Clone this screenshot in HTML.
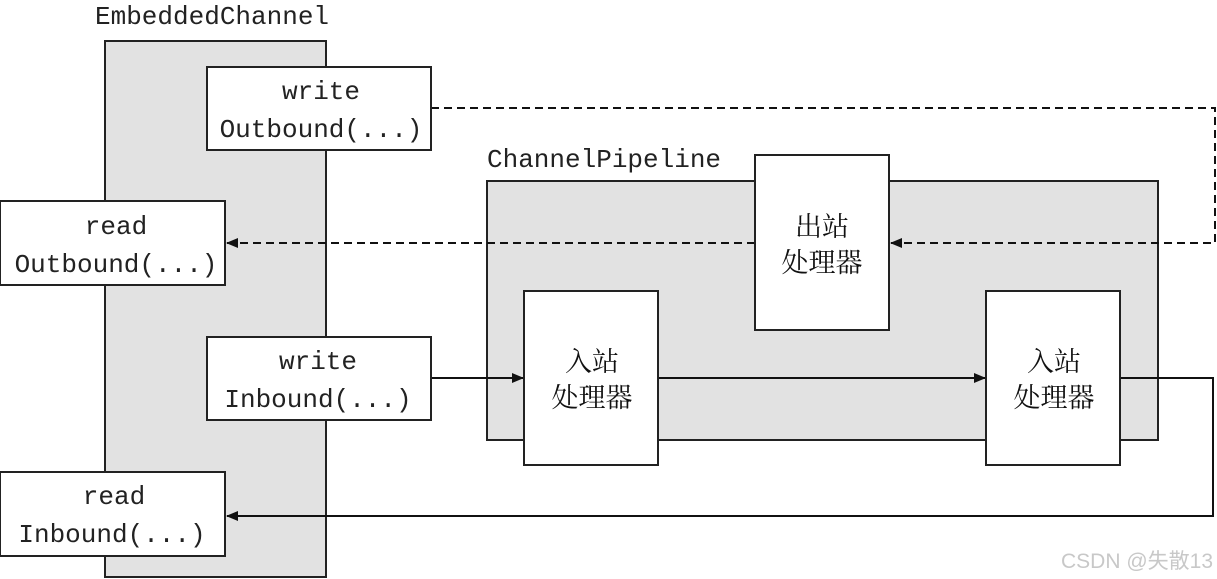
<!DOCTYPE html>
<html><head><meta charset="utf-8"><style>
html,body{margin:0;padding:0;background:#fff;width:1217px;height:579px;overflow:hidden}
svg text.m{font-family:"Liberation Mono",monospace;font-size:26px;fill:#222}
svg text.c{font-family:"Noto Serif CJK SC","Noto Sans CJK SC",serif;font-size:27px;fill:#111}
</style></head><body>
<svg width="1217" height="579" viewBox="0 0 1217 579" xmlns="http://www.w3.org/2000/svg">
<defs>
<marker id="a" markerWidth="12" markerHeight="10" refX="11" refY="5" orient="auto" markerUnits="userSpaceOnUse"><path d="M0,0 L12,5 L0,10 z" fill="#111"/></marker>
</defs>
<g stroke="#222" stroke-width="2">
<rect x="105" y="41" width="221" height="536" fill="#e2e2e2"/>
<rect x="487" y="181" width="671" height="259" fill="#e2e2e2"/>
</g>
<text class="m" x="95" y="24">EmbeddedChannel</text>
<text class="m" x="487" y="167">ChannelPipeline</text>
<g fill="none" stroke="#111" stroke-width="2">
<path d="M431,108 H1215 V243 H891" stroke-dasharray="8,5" marker-end="url(#a)"/>
<path d="M755,243 H227" stroke-dasharray="8,5" marker-end="url(#a)"/>
<path d="M431,378 H523" marker-end="url(#a)"/>
<path d="M658,378 H985" marker-end="url(#a)"/>
<path d="M1120,378 H1213 V516 H227" marker-end="url(#a)"/>
</g>
<g fill="#fff" stroke="#222" stroke-width="2">
<rect x="207" y="67" width="224" height="83"/>
<rect x="0" y="201" width="225" height="84"/>
<rect x="207" y="337" width="224" height="83"/>
<rect x="0" y="472" width="225" height="84"/>
<rect x="755" y="155" width="134" height="175"/>
<rect x="524" y="291" width="134" height="174"/>
<rect x="986" y="291" width="134" height="174"/>
</g>
<g text-anchor="middle">
<text class="m" x="321" y="99">write</text>
<text class="m" x="321" y="137">Outbound(...)</text>
<text class="m" x="116" y="234">read</text>
<text class="m" x="116" y="272">Outbound(...)</text>
<text class="m" x="318" y="369">write</text>
<text class="m" x="318" y="407">Inbound(...)</text>
<text class="m" x="114" y="504">read</text>
<text class="m" x="112" y="542">Inbound(...)</text>
<text class="c" x="822" y="236">出站</text>
<text class="c" x="822" y="272">处理器</text>
<text class="c" x="592" y="371">入站</text>
<text class="c" x="592" y="407">处理器</text>
<text class="c" x="1054" y="371">入站</text>
<text class="c" x="1054" y="407">处理器</text>
</g>
<text x="1213" y="568" text-anchor="end" style="font-family:'Liberation Sans','Noto Sans CJK SC',sans-serif;font-size:21px;fill:#c8c8c8">CSDN @失散13</text>
</svg>
</body></html>
